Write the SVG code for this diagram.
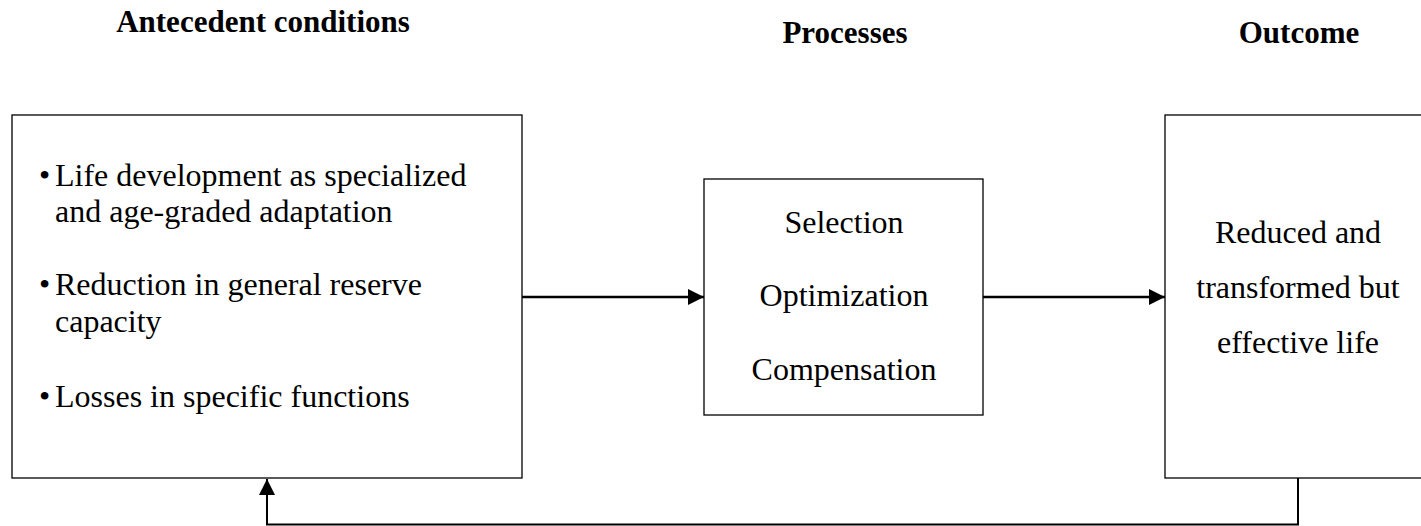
<svg xmlns="http://www.w3.org/2000/svg" width="1421" height="526" viewBox="0 0 1421 526">
  <style>
    .box { fill: #ffffff; stroke: #000000; stroke-width: 1.3; }
    .head { font-family: "Liberation Serif", "Times New Roman", serif; font-size: 31px; font-weight: bold; fill: #000; text-anchor: middle; }
    .txt { font-family: "Liberation Serif", "Times New Roman", serif; font-size: 32px; fill: #000; }
    .mid { text-anchor: middle; }
    .conn { fill: none; stroke: #000000; stroke-width: 2.5; }
    .loop { fill: none; stroke: #000000; stroke-width: 2; }
  </style>
  <defs>
    <marker id="arrow" viewBox="0 0 16 16" refX="16" refY="8" markerWidth="16" markerHeight="16" markerUnits="userSpaceOnUse" orient="auto">
      <path d="M0,0 L16,8 L0,16 Z" fill="#000000"/>
    </marker>
  </defs>

  <rect width="1421" height="526" fill="#ffffff"/>

  <!-- column headings -->
  <text class="head" x="263" y="32">Antecedent conditions</text>
  <text class="head" x="845" y="43">Processes</text>
  <text class="head" x="1299" y="43">Outcome</text>

  <!-- antecedent conditions -->
  <g id="antecedents">
    <rect class="box" x="12" y="115" width="510" height="363"/>
    <text class="txt" x="39" y="186">•</text>
    <text class="txt" x="55" y="186">Life development as specialized</text>
    <text class="txt" x="55" y="222">and age-graded adaptation</text>
    <text class="txt" x="39" y="295">•</text>
    <text class="txt" x="55" y="295">Reduction in general reserve</text>
    <text class="txt" x="55" y="332">capacity</text>
    <text class="txt" x="39" y="407">•</text>
    <text class="txt" x="55" y="407">Losses in specific functions</text>
  </g>

  <!-- processes -->
  <g id="processes">
    <rect class="box" x="704" y="179" width="279" height="236"/>
    <text class="txt mid" x="844" y="233">Selection</text>
    <text class="txt mid" x="844" y="306">Optimization</text>
    <text class="txt mid" x="844" y="380">Compensation</text>
  </g>

  <!-- outcome -->
  <g id="outcome">
    <rect class="box" x="1165" y="115" width="280" height="363"/>
    <text class="txt mid" x="1298" y="243">Reduced and</text>
    <text class="txt mid" x="1298" y="298">transformed but</text>
    <text class="txt mid" x="1298" y="353">effective life</text>
  </g>

  <!-- connectors -->
  <g id="connectors">
    <line class="conn" x1="522" y1="297" x2="704" y2="297" marker-end="url(#arrow)"/>
    <line class="conn" x1="983" y1="297" x2="1165" y2="297" marker-end="url(#arrow)"/>
    <polyline class="loop" points="1298,478 1298,524.5 267,524.5 267,479" marker-end="url(#arrow)"/>
  </g>
</svg>
